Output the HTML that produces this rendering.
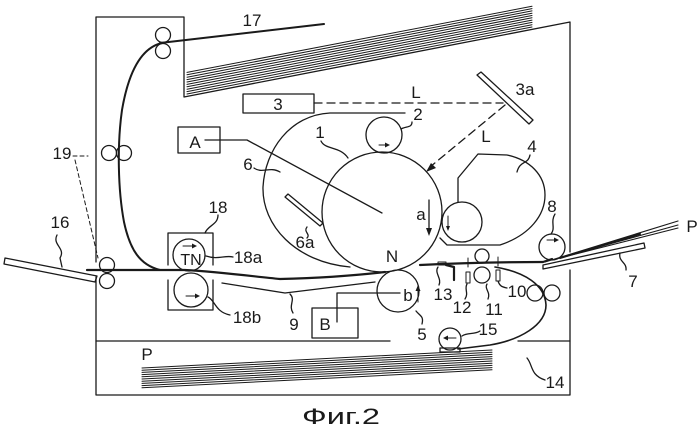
<!DOCTYPE html>
<html><head><meta charset="utf-8"><style>
html,body{margin:0;padding:0;background:#fff;}
svg{display:block;}
text{font-family:"Liberation Sans",sans-serif;fill:#1a1a1a;}
</style></head><body>
<svg width="700" height="430" viewBox="0 0 700 430" xmlns="http://www.w3.org/2000/svg">
<g fill="none" stroke="#1a1a1a" stroke-width="1.3" stroke-linecap="round" stroke-linejoin="round">
<!-- frame -->
<path d="M96,262 L96,17 L184,17 L184,97 L570,22 L570,252"/>
<path d="M570,270 L570,395 L96,395 L96,277"/>
<path d="M96,341 L390,341 M518,341 L570,341"/>
<!-- top paper stack -->
<g stroke-width="1">
<path d="M187,94 L532,27"/><path d="M187,91.6 L532,24.7"/><path d="M187,89.2 L532,22.4"/><path d="M187,86.8 L532,20.1"/><path d="M187,84.4 L532,17.8"/><path d="M187,82 L532,15.5"/><path d="M187,79.6 L532,13.2"/><path d="M187,77.2 L532,10.9"/><path d="M187,74.8 L532,8.6"/><path d="M187,72.4 L532,6.3"/>
</g>
<!-- output tray 17 -->
<path d="M160,43 L324,24" stroke-width="2"/>
<circle cx="163" cy="35" r="7.5"/><circle cx="163" cy="51" r="7.5"/>
<!-- vertical path -->
<path d="M162,43 C140,48 128,75 122,110 C117,145 118,190 124,222 C130,250 140,265 160,270" stroke-width="2"/>
<circle cx="109" cy="153" r="7.5"/><circle cx="124" cy="153" r="7.5"/>
<path d="M73,156 L88,156 M75,160 L98,258" stroke-dasharray="4,3" stroke-width="1"/>
<!-- tray 16 -->
<path d="M5,258 L97,276 L95,282 L4,264 Z"/>
<circle cx="107" cy="265" r="7.5"/><circle cx="107" cy="281" r="7.5"/>
<path d="M57,235 C52,245 66,248 60,258 L62,267"/>
<!-- main path -->
<path d="M87,270 L185,270 C220,272 250,276 280,279 C320,278 350,276 385,272" stroke-width="2.2"/>
<path d="M420,265 C460,263 500,262 543,262 L552,259" stroke-width="2.2"/>
<!-- guide 9 -->
<path d="M222,283 L285,293 L375,282"/>
<path d="M293,313 C288,305 296,300 290,294"/>
<!-- block 18 -->
<path d="M168,265 L168,233 L213,233 L213,265"/>
<path d="M168,280 L168,310 L213,310 L213,280"/>
<circle cx="189" cy="255" r="16"/>
<circle cx="191" cy="290" r="17"/>
<path d="M218,215 C218,225 208,225 205,233"/>
<path d="M233,257 C225,255 218,260 206,256"/>
<path d="M208,297 C215,300 215,312 230,315"/>
<path d="M183,246 L195,246 M186,296 L198,296" stroke-width="1"/>
<!-- box A -->
<rect x="178" y="127" width="42" height="26"/>
<path d="M205,140 L247,140 L382,213"/>
<!-- box 3 -->
<rect x="243" y="94" width="71" height="19"/>
<path d="M314,103 L503,103" stroke-dasharray="8,5"/>
<!-- mirror 3a -->
<path d="M477,75 L481,72 L533,120 L529,124 Z"/>
<path d="M505,105 L430,167" stroke-dasharray="8,5"/>
<!-- drum 1 -->
<circle cx="382" cy="212" r="60"/>
<path d="M321,141 C325,150 340,146 348,158"/>
<!-- roller 2 -->
<circle cx="384" cy="135" r="18"/>
<path d="M379,145 L388,145" stroke-width="1"/>
<path d="M412,122 C412,128 406,126 401,129"/>
<!-- cleaning unit 6 -->
<path d="M405,113 L330,113 C290,115 265,150 263,187 C262,225 295,262 350,267"/>
<path d="M254,168 C262,174 270,166 280,172"/>
<path d="M285,197 L288,194 L323,223 L320,226 Z"/>
<path d="M307,227 C303,232 311,234 307,238"/>
<!-- developer 4 -->
<path d="M458,202 L458,178 L478,154 L507,155 C530,160 545,175 545,195 C545,215 530,235 500,245 L447,245 L440,238"/>
<circle cx="462" cy="222" r="20"/>
<path d="M448,216 L448,229" stroke-width="1"/>
<path d="M530,155 C528,165 520,160 517,172"/>
<path d="M429,200 L429,231"/>
<!-- roller 8 -->
<circle cx="552" cy="247" r="13"/>
<path d="M547,240 L557,240" stroke-width="1"/>
<path d="M555,214 C550,222 556,228 551,234"/>
<!-- tray 7 and sheets -->
<path d="M543,265 L644,243 L645,248 L543,269 Z"/>
<path d="M545,262 L678,221 M548,261 L678,225 M552,260 L678,228" stroke-width="1.1"/>
<path d="M560,258 L640,234" stroke-width="2"/>
<path d="M620,253 C618,262 627,262 626,270"/>
<!-- roller 5 -->
<circle cx="398" cy="291" r="21"/>
<path d="M337,322 L337,293 L400,293"/>
<path d="M418,302 L418,288" stroke-width="1"/>
<path d="M416,311 C420,316 424,316 422,324"/>
<rect x="312" y="308" width="46" height="30"/>
<!-- element 13 -->
<path d="M438,262 L446,262 L446,265 L438,265 Z" stroke-width="1"/>
<path d="M446,265 L454,267 L454,280" stroke-width="2.2"/>
<path d="M438,267 C434,273 442,278 439,285"/>
<!-- sensors 12, 10 -->
<rect x="466" y="272" width="4" height="11" stroke-width="1"/>
<rect x="496" y="270" width="4" height="11" stroke-width="1"/>
<path d="M468,258 L468,267 M498,257 L498,266" stroke-width="1"/>
<path d="M467,284 C464,289 469,293 465,299"/>
<path d="M498,281 C500,287 503,287 507,288"/>
<!-- rollers 11 -->
<circle cx="482" cy="256" r="7"/><circle cx="482" cy="275" r="8"/>
<path d="M487,284 C484,289 491,292 488,299"/>
<!-- feed loop -->
<path d="M495,267 C525,272 545,285 546,305 C546,325 520,340 490,345 L458,349" stroke-width="1.6"/>
<circle cx="535" cy="293" r="8"/><circle cx="552" cy="293" r="8"/>
<!-- roller 15 -->
<circle cx="450" cy="339" r="11"/>
<rect x="440" y="348" width="20" height="4"/>
<path d="M445,338 L456,338" stroke-width="1"/>
<path d="M462,336 C468,332 474,335 480,331"/>
<!-- cassette stack -->
<g stroke-width="1">
<path d="M142,368 L492,350"/><path d="M142,370.2 L492,352.2"/><path d="M142,372.4 L492,354.4"/><path d="M142,374.6 L492,356.6"/><path d="M142,376.8 L492,358.8"/><path d="M142,379 L492,361"/><path d="M142,381.2 L492,363.2"/><path d="M142,383.4 L492,365.4"/><path d="M142,385.6 L492,367.6"/><path d="M142,387.8 L492,369.8"/>
</g>
<path d="M527,358 C533,365 530,375 545,380"/>
</g>
<!-- arrowheads -->
<g fill="#1a1a1a" stroke="none">
<polygon points="426,172 436,168 431,163"/>
<polygon points="429,236 426,228 432,228"/>
<polygon points="390,145 385,142.5 385,147.5"/>
<polygon points="448,231 446,226 450,226"/>
<polygon points="559,240 554,237.5 554,242.5"/>
<polygon points="197,246 192,243.5 192,248.5"/>
<polygon points="200,296 195,293.5 195,298.5"/>
<polygon points="418,285 415.5,291 420.5,291"/>
<polygon points="443,338 448,335.5 448,340.5"/>
</g>
<!-- labels -->
<g font-size="17" text-anchor="middle">
<text x="252" y="26">17</text>
<text x="62" y="159">19</text>
<text x="60" y="228">16</text>
<text x="218" y="213">18</text>
<text x="248" y="263">18a</text>
<text x="247" y="323">18b</text>
<text x="191" y="265" font-size="16">TN</text>
<text x="294" y="330">9</text>
<text x="325" y="330">B</text>
<text x="147" y="360">P</text>
<text x="195" y="148">A</text>
<text x="278" y="110">3</text>
<text x="320" y="138">1</text>
<text x="248" y="170">6</text>
<text x="305" y="248">6a</text>
<text x="416" y="98">L</text>
<text x="418" y="120">2</text>
<text x="525" y="95">3a</text>
<text x="486" y="142">L</text>
<text x="532" y="152">4</text>
<text x="552" y="212">8</text>
<text x="421" y="220">a</text>
<text x="392" y="262">N</text>
<text x="692" y="232">P</text>
<text x="633" y="287">7</text>
<text x="443" y="300">13</text>
<text x="462" y="313">12</text>
<text x="494" y="315">11</text>
<text x="517" y="297">10</text>
<text x="408" y="301">b</text>
<text x="422" y="340">5</text>
<text x="488" y="335">15</text>
<text x="555" y="388">14</text>
</g>
<text x="302" y="424" font-size="22" textLength="78" lengthAdjust="spacingAndGlyphs">Фиг.2</text>
</svg>
</body></html>
